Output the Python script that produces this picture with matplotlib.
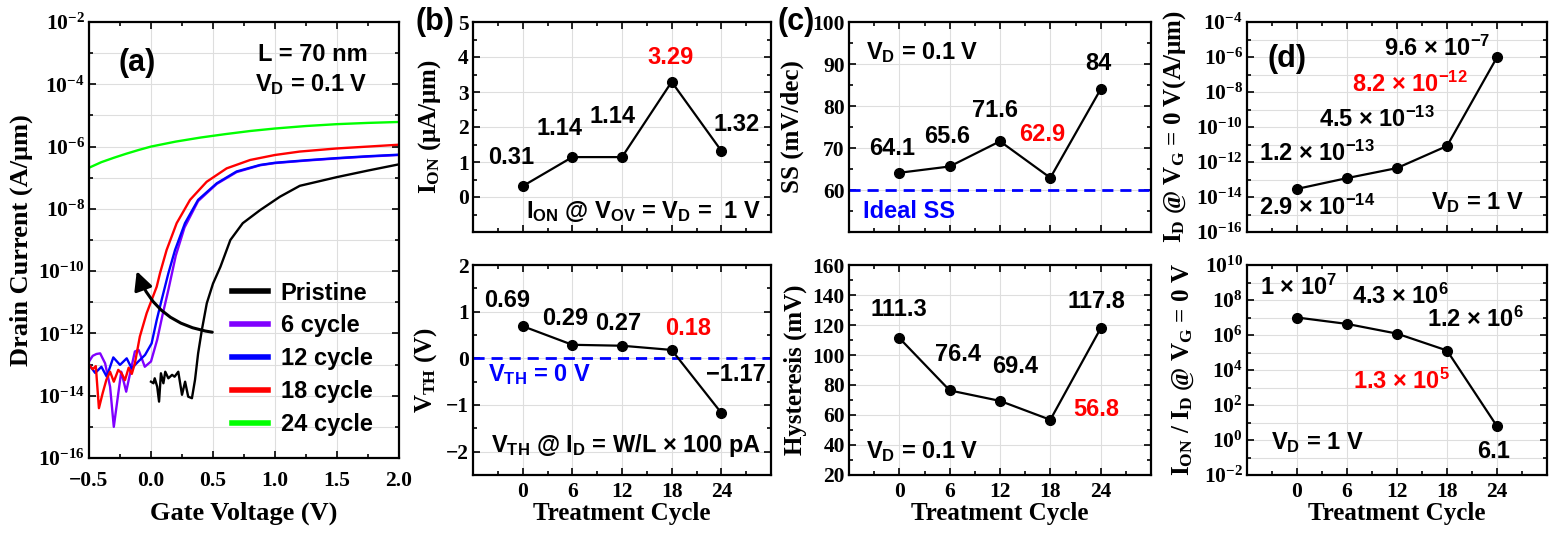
#!/usr/bin/env python3
"""Transfer curves (a) + treatment-cycle summary panels (b)-(d)."""
import numpy as np
import matplotlib
matplotlib.use("Agg")
import matplotlib.pyplot as plt
from matplotlib.ticker import FixedLocator, MultipleLocator, NullFormatter, FuncFormatter

# ---- (a) I_D-V_G, V_D = 0.1 V : gate voltage (V) / log10 drain current (A/um)
VG_PRISTINE = [0.00, 0.02, 0.03, 0.05, 0.065, 0.08, 0.10, 0.115, 0.14, 0.17, 0.19, 0.22, 0.25, 0.275,
               0.30, 0.33, 0.355, 0.38, 0.41, 0.45, 0.50, 0.56, 0.64, 0.74, 0.88, 1.04, 1.20, 1.35,
               1.50, 1.75, 2.00]
LOG_PRISTINE = [-13.55, -13.6, -13.44, -13.71, -14.19, -13.28, -13.6, -13.23, -13.44, -13.33, -13.39,
                -13.23, -13.97, -13.55, -14.03, -14.08, -13.49, -12.64, -11.89, -11.03, -10.4, -9.86,
                -9.0, -8.46, -8.04, -7.61, -7.26, -7.12, -6.98, -6.77, -6.57]

VG_6 = [-0.50, -0.47, -0.44, -0.41, -0.37, -0.33, -0.30, -0.26, -0.24, -0.20, -0.16, -0.13, -0.10,
        -0.05, 0.00, 0.05, 0.09, 0.14, 0.20, 0.27, 0.38, 0.53, 0.69, 0.88, 1.00, 1.25, 1.50, 1.75, 2.00]
LOG_6 = [-12.9, -12.72, -12.66, -12.64, -12.96, -13.71, -15.0, -13.81, -13.23, -13.87, -13.12, -12.58,
         -12.53, -13.07, -12.9, -12.2, -11.46, -10.6, -9.5, -8.6, -7.75, -7.2, -6.82, -6.6, -6.53,
         -6.45, -6.38, -6.32, -6.27]

VG_12 = [-0.50, -0.45, -0.40, -0.357, -0.304, -0.25, -0.196, -0.156, -0.102, -0.048, 0.005, 0.046,
         0.086, 0.14, 0.194, 0.274, 0.38, 0.53, 0.69, 0.88, 1.00, 1.25, 1.50, 1.75, 2.00]
LOG_12 = [-13.0, -13.27, -13.07, -13.39, -12.77, -13.01, -12.8, -13.12, -12.9, -12.69, -12.32, -11.57,
          -10.92, -10.07, -9.32, -8.46, -7.71, -7.18, -6.8, -6.59, -6.52, -6.44, -6.37, -6.31, -6.26]

VG_18 = [-0.50, -0.47, -0.445, -0.42, -0.39, -0.36, -0.33, -0.30, -0.264, -0.237, -0.21, -0.18, -0.155,
         -0.13, -0.09, -0.035, 0.005, 0.046, 0.073, 0.126, 0.207, 0.315, 0.449, 0.61, 0.80, 1.00, 1.20,
         1.50, 1.75, 2.00]
LOG_18 = [-13.0, -13.15, -13.05, -14.4, -13.92, -13.49, -13.23, -13.55, -13.17, -13.28, -13.5, -13.1,
          -13.3, -12.96, -12.1, -11.35, -10.93, -10.5, -10.06, -9.32, -8.46, -7.71, -7.13, -6.7, -6.43,
          -6.27, -6.16, -6.06, -6.0, -5.94]

VG_24 = [-0.5, -0.4, -0.3, -0.2, -0.1, 0.0, 0.2, 0.4, 0.6, 0.8, 1.0, 1.25, 1.5, 1.75, 2.0]
LOG_24 = [-6.68, -6.5, -6.36, -6.23, -6.11, -6.0, -5.84, -5.71, -5.6, -5.5, -5.42, -5.34, -5.28,
          -5.24, -5.21]

CURVE_LABELS = ["Pristine", "6 cycle", "12 cycle", "18 cycle", "24 cycle"]
CURVE_COLORS = ["#000000", "#8000ff", "#0000ff", "#ff0000", "#00ff00"]

# ---- (b)-(d) vs treatment cycle
CYCLES = [0, 6, 12, 18, 24]
ION = [0.31, 1.14, 1.14, 3.29, 1.32]          # uA/um
VTH = [0.69, 0.29, 0.27, 0.18, -1.17]         # V
SS = [64.1, 65.6, 71.6, 62.9, 84]             # mV/dec
HYST = [111.3, 76.4, 69.4, 56.8, 117.8]       # mV
IOFF = [2.9e-14, 1.2e-13, 4.5e-13, 8.2e-12, 9.6e-7]   # A/um
RATIO = [1e7, 4.3e6, 1.2e6, 1.3e5, 6.1]

ION_TXT = ["0.31", "1.14", "1.14", "3.29", "1.32"]
VTH_TXT = ["0.69", "0.29", "0.27", "0.18", "\u22121.17"]
SS_TXT = ["64.1", "65.6", "71.6", "62.9", "84"]
HYST_TXT = ["111.3", "76.4", "69.4", "56.8", "117.8"]
IOFF_TXT = [r"2.9 × $\mathdefault{10^{-14}}$", r"1.2 × $\mathdefault{10^{-13}}$",
            r"4.5 × $\mathdefault{10^{-13}}$", r"8.2 × $\mathdefault{10^{-12}}$",
            r"9.6 × $\mathdefault{10^{-7}}$"]
RATIO_TXT = [r"1 × $\mathdefault{10^{7}}$", r"4.3 × $\mathdefault{10^{6}}$",
             r"1.2 × $\mathdefault{10^{6}}$", r"1.3 × $\mathdefault{10^{5}}$", "6.1"]
BEST = 3   # 18 cycle highlighted in red

SERIF = ["Liberation Serif", "DejaVu Serif"]
SANS = ["Liberation Sans", "DejaVu Sans"]
plt.rcParams["font.family"] = SERIF
plt.rcParams["font.weight"] = "bold"
plt.rcParams["axes.labelweight"] = "bold"
plt.rcParams["axes.linewidth"] = 1.6
GRID = "#dedede"
W, H = 1556, 537

fig = plt.figure(figsize=(W / 100, H / 100), dpi=100)


def box(x0, y0, x1, y1):
    """pixel box (top-left origin) -> axes"""
    return fig.add_axes([x0 / W, 1 - y1 / H, (x1 - x0) / W, (y1 - y0) / H])


def style(ax, xpad=5):
    ax.tick_params(which="both", direction="in", top=True, right=True, width=1.2)
    ax.tick_params(which="major", length=5, labelsize=15.5)
    ax.tick_params(which="minor", length=3)
    ax.tick_params(axis="x", pad=xpad)
    ax.tick_params(axis="y", pad=3)
    ax.set_axisbelow(True)


def log_y(ax, lo, hi):
    ax.set_yscale("log")
    ax.set_ylim(10.0 ** lo, 10.0 ** hi)
    ax.yaxis.set_major_locator(FixedLocator(10.0 ** np.arange(lo, hi + 1, 2)))
    ax.yaxis.set_minor_locator(FixedLocator(10.0 ** np.arange(lo, hi + 1, 1)))
    ax.yaxis.set_major_formatter(FuncFormatter(lambda v, p: r"$\mathdefault{10^{%d}}$" % round(np.log10(v))))
    ax.yaxis.set_minor_formatter(NullFormatter())


def note(ax, x, y, s, color="black", size=17, ha="center", va="center"):
    ax.text(x, y, s, color=color, fontsize=size, fontweight="bold", family=SANS, ha=ha, va=va, zorder=5)


def cycle_axes(ax, bottom):
    ax.set_xlim(-6, 30)
    ax.set_xticks(CYCLES)
    ax.xaxis.set_minor_locator(MultipleLocator(3))
    ax.grid(True, which="major", color=GRID, lw=0.8)
    style(ax)
    if bottom:
        ax.set_xlabel("Treatment Cycle", fontsize=18)
        ax.xaxis.set_label_coords(0.5, -0.13)
    else:
        ax.tick_params(labelbottom=False)


def dots(ax, vals):
    ax.plot(CYCLES, vals, "-o", color="black", lw=1.6, ms=7, zorder=3)


def labels(ax, texts, pos):
    for i, (s, (x, y)) in enumerate(zip(texts, pos)):
        note(ax, x, y, s, color="#ff0000" if i == BEST else "black")


# ================= (a)
ax = box(89, 22, 399, 458)
style(ax, xpad=9)
for vg, lg, lab, col in zip([VG_PRISTINE, VG_6, VG_12, VG_18, VG_24],
                            [LOG_PRISTINE, LOG_6, LOG_12, LOG_18, LOG_24],
                            CURVE_LABELS, CURVE_COLORS):
    ax.plot(vg, 10.0 ** np.array(lg), color=col, lw=1.7, label=lab)
ax.set_xlim(-0.5, 2.0)
ax.xaxis.set_major_locator(MultipleLocator(0.5))
ax.xaxis.set_minor_locator(MultipleLocator(0.25))
log_y(ax, -16, -2)
ax.grid(True, which="major", axis="x", color=GRID, lw=0.8)
ax.grid(True, which="both", axis="y", color=GRID, lw=0.8)
ax.set_xlabel("Gate Voltage (V)", fontsize=19)
ax.xaxis.set_label_coords(0.5, -0.1)
ax.set_ylabel("Drain Current (A/μm)", fontsize=19)
ax.yaxis.set_label_coords(-0.18, 0.5)
note(ax, -0.115, 10 ** -3.32, "(a)", size=22)
note(ax, 1.75, 10 ** -3.05, "L = 70 nm", ha="right")
note(ax, 1.75, 10 ** -4.0, r"$\mathdefault{V_{D}}$ = 0.1 V", ha="right")
ax.annotate("", xy=(-0.115, 10 ** -10.0), xytext=(0.494, 10 ** -11.96),
            arrowprops=dict(arrowstyle="-|>", connectionstyle="arc3,rad=-0.3", lw=2.2,
                            color="black", mutation_scale=28, shrinkA=0, shrinkB=0))
leg = ax.legend(loc="lower right", bbox_to_anchor=(0.915, 0.05), frameon=False,
                prop=dict(family=SANS, weight="bold", size=17), handlelength=1.5,
                handletextpad=0.55, labelspacing=0.42, borderpad=0, borderaxespad=0)
for h in leg.get_lines():
    h.set_linewidth(4)

# ================= (b)
ax = box(473, 22, 771, 232)
dots(ax, ION)
ax.set_ylim(-1, 5)
ax.set_yticks([0, 1, 2, 3, 4, 5])
ax.yaxis.set_minor_locator(MultipleLocator(0.5))
cycle_axes(ax, False)
ax.set_ylabel(r"$\mathdefault{I_{ON}}$ (μA/μm)", fontsize=18)
ax.yaxis.set_label_coords(-0.1, 0.5)
labels(ax, ION_TXT, [(-1.33, 1.13), (4.43, 1.95), (10.9, 2.29), (17.9, 3.98), (25.8, 2.07)])
note(ax, 28.8, -0.41, r"$\mathdefault{I_{ON}}$ @ $\mathdefault{V_{OV}}$ = $\mathdefault{V_{D}}$ =  1 V", ha="right")

ax = box(473, 265, 771, 475)
ax.axhline(0, color="#0000ff", lw=2, ls=(0, (4, 2.5)), zorder=2)
dots(ax, VTH)
ax.set_ylim(-2.5, 2)
ax.set_yticks([-2, -1, 0, 1, 2])
ax.yaxis.set_minor_locator(MultipleLocator(0.5))
cycle_axes(ax, True)
ax.set_ylabel(r"$\mathdefault{V_{TH}}$ (V)", fontsize=18)
ax.yaxis.set_label_coords(-0.115, 0.5)
labels(ax, VTH_TXT, [(-1.85, 1.23), (5.1, 0.86), (11.55, 0.75), (20.0, 0.64), (25.8, -0.35)])
note(ax, -4.15, -0.35, r"$\mathdefault{V_{TH}}$ = 0 V", color="#0000ff", ha="left")
note(ax, 28.8, -1.86, r"$\mathdefault{V_{TH}}$ @ $\mathdefault{I_{D}}$ = W/L × 100 pA", ha="right")

# ================= (c)
ax = box(849, 22, 1151, 232)
ax.axhline(60, color="#0000ff", lw=2, ls=(0, (4, 2.5)), zorder=2)
dots(ax, SS)
ax.set_ylim(50, 100)
ax.set_yticks([60, 70, 80, 90, 100])
ax.yaxis.set_minor_locator(MultipleLocator(5))
cycle_axes(ax, False)
ax.set_ylabel("SS (mV/dec)", fontsize=18)
ax.yaxis.set_label_coords(-0.15, 0.5)
labels(ax, SS_TXT, [(-0.9, 69.9), (5.66, 72.8), (11.4, 78.9), (17.0, 73.2), (23.7, 90.2)])
note(ax, -3.97, 92.7, r"$\mathdefault{V_{D}}$ = 0.1 V", ha="left")
note(ax, -4.3, 54.9, "Ideal SS", color="#0000ff", ha="left")

ax = box(849, 265, 1151, 475)
dots(ax, HYST)
ax.set_ylim(20, 160)
ax.set_yticks(np.arange(20, 161, 20))
ax.yaxis.set_minor_locator(MultipleLocator(10))
cycle_axes(ax, True)
ax.set_ylabel("Hysteresis (mV)", fontsize=18)
ax.yaxis.set_label_coords(-0.14, 0.5)
labels(ax, HYST_TXT, [(-0.1, 130.2), (7.0, 100.5), (13.8, 92.5), (23.5, 63.9), (23.5, 136.0)])
note(ax, -3.97, 35.3, r"$\mathdefault{V_{D}}$ = 0.1 V", ha="left")

# ================= (d)
ax = box(1247, 22, 1547, 232)
dots(ax, IOFF)
log_y(ax, -16, -4)
cycle_axes(ax, False)
ax.grid(True, which="minor", axis="y", color=GRID, lw=0.8)
ax.set_ylabel(r"$\mathdefault{I_{D}}$ @ $\mathdefault{V_{G}}$ = 0 V(A/μm)", fontsize=18)
ax.yaxis.set_label_coords(-0.195, 0.5)
labels(ax, IOFF_TXT, [(2.4, 10 ** -14.6), (2.4, 10 ** -11.5), (9.6, 10 ** -9.57),
                      (13.6, 10 ** -7.54), (16.8, 10 ** -5.5)])
note(ax, -1.23, 10 ** -6.09, "(d)", size=22)
note(ax, 21.6, 10 ** -14.3, r"$\mathdefault{V_{D}}$ = 1 V")

ax = box(1247, 265, 1547, 475)
dots(ax, RATIO)
log_y(ax, -2, 10)
cycle_axes(ax, True)
ax.grid(True, which="minor", axis="y", color=GRID, lw=0.8)
ax.set_ylabel(r"$\mathdefault{I_{ON}}$ / $\mathdefault{I_{D}}$ @ $\mathdefault{V_{G}}$ = 0 V", fontsize=18)
ax.yaxis.set_label_coords(-0.17, 0.5)
labels(ax, RATIO_TXT, [(0.17, 10 ** 8.73), (12.4, 10 ** 8.24), (21.4, 10 ** 6.88),
                       (12.6, 10 ** 3.37), (23.6, 10 ** -0.63)])
note(ax, 2.4, 10 ** -0.15, r"$\mathdefault{V_{D}}$ = 1 V")

# panel letters outside the axes
fig.text(435 / W, 1 - 22 / H, "(b)", fontsize=22, fontweight="bold", family=SANS, ha="center", va="center")
fig.text(796 / W, 1 - 22 / H, "(c)", fontsize=22, fontweight="bold", family=SANS, ha="center", va="center")

fig.savefig("out.png", dpi=100)
